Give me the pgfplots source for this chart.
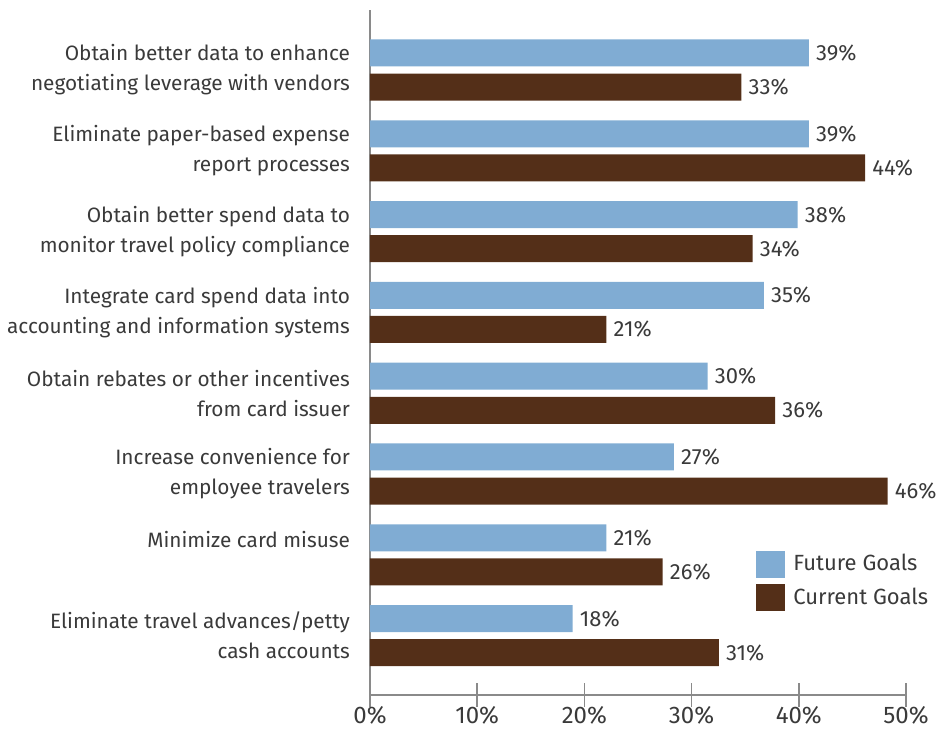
\documentclass[border=0pt]{standalone}
\usepackage{pgfplots}
\pgfplotsset{compat=1.18}
\usepackage{fontspec}
\setmainfont{Fira Sans}
\definecolor{futc}{HTML}{80ACD3}
\definecolor{curc}{HTML}{542F18}
\definecolor{txt}{HTML}{3A3A3A}
\definecolor{axc}{HTML}{8A8A8A}
\begin{document}
\begin{tikzpicture}
\useasboundingbox (-185pt,-20.5pt) rectangle (291pt,347.5pt);
\begin{axis}[
  at={(0,0)}, anchor=south west,
  scale only axis, width=268pt, height=342.5pt,
  xbar, bar shift=0pt, bar width=0.334,
  y dir=reverse,
  xmin=0, xmax=47.64,
  ymin=-0.743, ymax=7.735,
  axis x line=bottom, axis y line=left,
  axis line style={axc, line width=0.8pt, -},
  xtick={0,9.528,19.056,28.584,38.112,47.64},
  xticklabels={0\%,10\%,20\%,30\%,40\%,50\%},
  tick align=center, major tick length=12pt,
  x tick style={axc, line width=0.8pt},
  y tick style={draw=none},
  ytick={0,...,7},
  yticklabels={
    {Obtain better data to enhance\\negotiating leverage with vendors},
    {Eliminate paper-based expense\\report processes},
    {Obtain better spend data to\\monitor travel policy compliance},
    {Integrate card spend data into\\accounting and information systems},
    {Obtain rebates or other incentives\\from card issuer},
    {Increase convenience for\\employee travelers},
    {Minimize card misuse\\\mbox{}},
    {Eliminate travel advances/petty\\cash accounts}},
  yticklabel style={align=right, font=\fontsize{10.4}{15}\selectfont, text=txt, xshift=-0.5pt},
  xticklabel style={font=\fontsize{12}{14}\selectfont, text=txt, yshift=4pt},
  /pgf/number format/assume math mode=true,
  nodes near coords={\pgfmathprintnumber{\pgfplotspointmeta}\%},
  nodes near coords align=horizontal,
  nodes near coords style={anchor=west, font=\fontsize{11}{12}\selectfont, text=txt, inner xsep=3.5pt},
  point meta=explicit,
  legend style={draw=none, fill=none, at={(0.72,0.2117)}, anchor=north west,
    font=\fontsize{11}{14}\selectfont, text=txt, row sep=3pt, inner sep=0pt},
  legend cell align=left,
  legend image code/.code={\fill[#1] (0pt,-6.75pt) rectangle (14.5pt,6.75pt);},
  clip=false,
]
\addplot[fill=futc, draw=none] table[x=x, y=y, meta=v] {
x y v
39 -0.211 39
39 0.789 39
38 1.789 38
35 2.789 35
30 3.789 30
27 4.789 27
21 5.789 21
18 6.789 18
};
\addlegendentry{\hspace{2pt}Future Goals}
\addplot[fill=curc, draw=none] table[x=x, y=y, meta=v] {
x y v
33 0.211 33
44 1.211 44
34 2.211 34
21 3.211 21
36 4.211 36
46 5.211 46
26 6.211 26
31 7.211 31
};
\addlegendentry{\hspace{2pt}Current Goals}
\end{axis}
\end{tikzpicture}
\end{document}
